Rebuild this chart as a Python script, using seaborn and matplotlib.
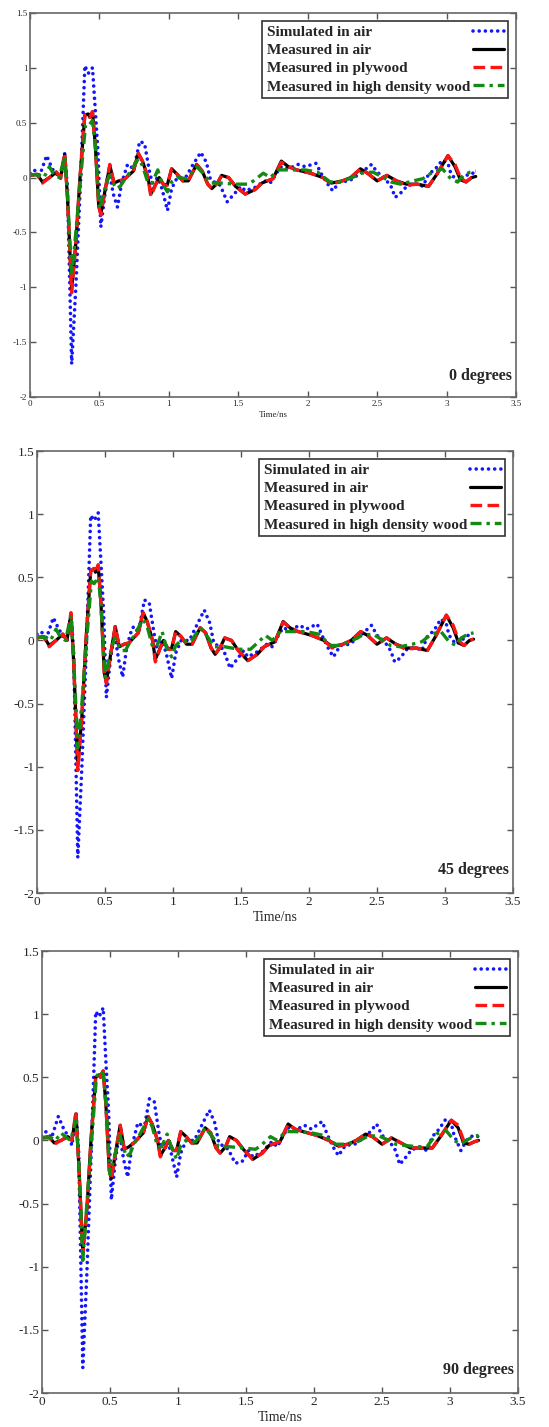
import matplotlib
matplotlib.use("Agg")
import matplotlib.pyplot as plt
import seaborn as sns

# time (ns) of the read-off points, one per kind of trace
sim_t = [0.00, 0.03, 0.07, 0.12, 0.16, 0.20, 0.22, 0.25, 0.27, 0.30,
         0.33, 0.365, 0.395, 0.42, 0.45, 0.47, 0.49, 0.51, 0.54, 0.57,
         0.60, 0.63, 0.66, 0.70, 0.72, 0.745, 0.79, 0.825, 0.86, 0.88,
         0.92, 0.95, 0.99, 1.02, 1.06, 1.12, 1.17, 1.23, 1.27, 1.30,
         1.34, 1.37, 1.42, 1.47, 1.52, 1.55, 1.62, 1.69, 1.73, 1.78,
         1.81, 1.86, 1.93, 1.98, 2.06, 2.10, 2.15, 2.18, 2.23, 2.30,
         2.39, 2.46, 2.50, 2.55, 2.60, 2.63, 2.67, 2.72, 2.79, 2.83,
         2.87, 2.92, 2.97, 3.01, 3.03, 3.08, 3.12, 3.17, 3.21]
meas_t = [0.00, 0.05, 0.09, 0.14, 0.19, 0.22, 0.25, 0.27, 0.30, 0.33,
          0.36, 0.395, 0.42, 0.43, 0.45, 0.47, 0.495, 0.51, 0.54, 0.575,
          0.605, 0.64, 0.675, 0.71, 0.745, 0.78, 0.81, 0.85, 0.87, 0.91,
          0.93, 0.965, 0.99, 1.02, 1.06, 1.10, 1.14, 1.20, 1.24, 1.28,
          1.31, 1.35, 1.38, 1.43, 1.48, 1.55, 1.62, 1.67, 1.75, 1.81,
          1.86, 1.92, 2.02, 2.11, 2.17, 2.25, 2.31, 2.38, 2.43, 2.50,
          2.57, 2.64, 2.71, 2.79, 2.87, 2.93, 3.01, 3.06, 3.10, 3.14,
          3.18, 3.21]
wood_t = [0.00, 0.07, 0.10, 0.14, 0.17, 0.21, 0.25, 0.27, 0.30, 0.33,
          0.365, 0.40, 0.42, 0.45, 0.47, 0.50, 0.54, 0.57, 0.62, 0.65,
          0.675, 0.72, 0.78, 0.81, 0.85, 0.88, 0.92, 0.95, 0.99, 1.02,
          1.06, 1.13, 1.20, 1.26, 1.30, 1.38, 1.48, 1.57, 1.61, 1.68,
          1.73, 1.79, 1.86, 1.98, 2.07, 2.16, 2.23, 2.32, 2.39, 2.47,
          2.53, 2.60, 2.67, 2.76, 2.83, 2.90, 2.97, 3.03, 3.08, 3.12,
          3.17, 3.21]

# 0 degrees
sim_0 = [0.04, 0.07, 0.02, 0.2, 0.08, 0.02, -0.01, 0.22, -0.1, -1.7,
         -1.0, 0.0, 1.02, 0.95, 1.0, 0.62, 0.22, -0.45, -0.15, 0.06,
         -0.15, -0.27, -0.05, 0.11, 0.12, 0.06, 0.33, 0.31, 0.06, -0.05,
         0.0, -0.1, -0.3, -0.1, 0.0, 0.0, 0.11, 0.23, 0.14, -0.02,
         -0.05, -0.07, -0.22, -0.15, -0.08, -0.12, -0.09, -0.03, -0.05, 0.05,
         0.10, 0.08, 0.12, 0.1, 0.13, 0.03, -0.07, -0.12, -0.04, -0.03,
         0.05, 0.12, 0.05, 0.0, -0.08, -0.18, -0.14, -0.07, -0.06, -0.08,
         0.03, 0.08, 0.16, 0.13, 0.04, -0.04, 0.0, 0.04, 0.04]
air_0 = [0.02, 0.03, -0.04, 0.0, 0.05, 0.0, 0.21, -0.18, -1.02, -0.6,
         0.0, 0.57, 0.58, 0.55, 0.6, 0.3, -0.26, -0.33, -0.12, 0.11,
         -0.05, -0.03, -0.02, 0.02, 0.06, 0.22, 0.15, 0.0, -0.15, -0.05,
         0.0, -0.07, -0.06, 0.08, 0.03, -0.03, -0.03, 0.12, 0.06, -0.06,
         -0.1, -0.05, 0.02, 0.0, -0.08, -0.15, -0.11, -0.05, -0.01, 0.15,
         0.1, 0.07, 0.04, 0.0, -0.05, -0.03, 0.0, 0.08, 0.04, -0.03,
         0.02, -0.03, -0.06, -0.06, -0.08, 0.03, 0.2, 0.1, -0.02, -0.04,
         0.0, 0.01]
ply_0 = [0.02, 0.03, -0.05, 0.0, 0.05, 0.0, 0.22, -0.18, -1.05, -0.6,
         0.0, 0.57, 0.58, 0.55, 0.6, 0.3, -0.26, -0.34, -0.12, 0.12,
         -0.05, -0.03, -0.02, 0.02, 0.06, 0.22, 0.15, 0.0, -0.17, -0.05,
         0.0, -0.07, -0.07, 0.08, 0.03, -0.03, -0.03, 0.12, 0.06, -0.06,
         -0.1, -0.05, 0.02, 0.0, -0.08, -0.15, -0.11, -0.05, -0.01, 0.14,
         0.1, 0.07, 0.04, 0.0, -0.06, -0.03, 0.0, 0.08, 0.04, -0.03,
         0.02, -0.03, -0.07, -0.06, -0.08, 0.03, 0.2, 0.12, 0.0, -0.04,
         0.0, 0.01]
wood_0 = [0.03, 0.02, 0.0, 0.1, 0.03, 0.0, 0.19, -0.15, -0.9, -0.5,
          0.0, 0.48, 0.47, 0.52, 0.3, -0.29, -0.1, 0.02, -0.1, -0.08,
          -0.03, 0.05, 0.17, 0.11, -0.05, -0.05, 0.07, -0.05, -0.13, -0.04,
          0.0, -0.01, 0.1, 0.02, -0.05, -0.05, -0.06, -0.06, -0.03, 0.04,
          0.0, 0.07, 0.07, 0.07, 0.05, -0.04, -0.04, 0.0, 0.04, 0.05,
          0.01, -0.04, -0.06, -0.03, -0.01, 0.05, 0.08, -0.01, -0.04, 0.02,
          0.05, 0.06]

# 45 degrees
sim_45 = [0.05, 0.07, 0.02, 0.18, 0.09, 0.02, 0.0, 0.22, -0.1, -1.72,
          -1.0, 0.0, 0.99, 0.95, 1.01, 0.62, 0.22, -0.45, -0.15, 0.06,
          -0.15, -0.29, -0.05, 0.10, 0.11, 0.06, 0.32, 0.30, 0.06, -0.05,
          0.0, -0.1, -0.3, -0.1, 0.0, 0.0, 0.11, 0.24, 0.14, -0.02,
          -0.05, -0.07, -0.22, -0.15, -0.08, -0.13, -0.09, -0.03, -0.05, 0.05,
          0.10, 0.08, 0.12, 0.09, 0.13, 0.03, -0.08, -0.13, -0.04, -0.03,
          0.05, 0.12, 0.04, 0.0, -0.08, -0.17, -0.14, -0.07, -0.06, -0.08,
          0.03, 0.08, 0.17, 0.13, 0.04, -0.03, 0.0, 0.04, 0.04]
air_45 = [0.02, 0.03, -0.04, 0.0, 0.05, 0.0, 0.21, -0.18, -1.0, -0.6,
          0.0, 0.55, 0.57, 0.54, 0.59, 0.3, -0.26, -0.33, -0.12, 0.11,
          -0.05, -0.03, -0.02, 0.02, 0.06, 0.22, 0.15, 0.0, -0.15, -0.05,
          0.0, -0.07, -0.06, 0.07, 0.03, -0.03, -0.03, 0.1, 0.06, -0.06,
          -0.11, -0.05, 0.02, 0.0, -0.08, -0.16, -0.11, -0.05, -0.01, 0.15,
          0.1, 0.07, 0.04, 0.0, -0.05, -0.03, 0.0, 0.07, 0.04, -0.03,
          0.02, -0.03, -0.06, -0.06, -0.08, 0.03, 0.2, 0.1, -0.02, -0.04,
          0.0, 0.01]
ply_45 = [0.02, 0.03, -0.05, 0.0, 0.05, 0.0, 0.22, -0.18, -1.03, -0.6,
          0.0, 0.55, 0.57, 0.54, 0.60, 0.30, -0.26, -0.34, -0.12, 0.11,
          -0.05, -0.03, -0.02, 0.02, 0.06, 0.22, 0.15, 0.0, -0.17, -0.05,
          0.0, -0.07, -0.07, 0.07, 0.03, -0.03, -0.03, 0.10, 0.06, -0.06,
          -0.11, -0.05, 0.02, 0.0, -0.08, -0.16, -0.11, -0.05, -0.01, 0.145,
          0.10, 0.07, 0.04, 0.0, -0.06, -0.03, 0.0, 0.07, 0.04, -0.03,
          0.02, -0.03, -0.07, -0.06, -0.08, 0.03, 0.20, 0.12, 0.0, -0.04,
          0.0, 0.01]
wood_45 = [0.03, 0.02, 0.0, 0.09, 0.03, 0.0, 0.20, -0.15, -0.85, -0.5,
           0.0, 0.47, 0.45, 0.50, 0.30, -0.29, -0.10, 0.02, -0.08, -0.08,
           -0.03, 0.05, 0.17, 0.11, -0.05, -0.05, 0.07, -0.05, -0.13, -0.04,
           0.0, -0.01, 0.10, 0.02, -0.05, -0.05, -0.07, -0.07, -0.03, 0.04,
           0.0, 0.07, 0.07, 0.07, 0.05, -0.04, -0.04, 0.0, 0.04, 0.05,
           0.01, -0.04, -0.05, -0.03, -0.01, 0.05, 0.07, -0.01, -0.04, 0.02,
           0.05, 0.06]

# 90 degrees
sim_90 = [0.03, 0.07, 0.02, 0.19, 0.09, 0.02, -0.04, 0.22, -0.1, -1.8,
          -1.05, 0.0, 1.02, 0.98, 1.05, 0.62, 0.22, -0.47, -0.15, 0.06,
          -0.15, -0.29, -0.05, 0.12, 0.14, 0.06, 0.33, 0.31, 0.06, -0.05,
          0.0, -0.1, -0.29, -0.1, 0.0, 0.0, 0.11, 0.24, 0.14, -0.02,
          -0.05, -0.07, -0.18, -0.17, -0.08, -0.13, -0.09, -0.01, -0.05, 0.05,
          0.10, 0.08, 0.12, 0.09, 0.15, 0.04, -0.07, -0.12, -0.04, -0.03,
          0.04, 0.13, 0.04, 0.0, -0.08, -0.19, -0.14, -0.07, -0.06, -0.08,
          0.03, 0.09, 0.17, 0.13, 0.04, -0.08, 0.0, 0.04, 0.03]
air_90 = [0.02, 0.03, -0.02, 0.0, 0.03, 0.0, 0.21, -0.18, -0.88, -0.55,
          0.0, 0.5, 0.52, 0.5, 0.55, 0.28, -0.24, -0.3, -0.1, 0.12,
          -0.07, -0.05, -0.02, 0.02, 0.06, 0.19, 0.13, 0.0, -0.12, -0.05,
          0.0, -0.08, -0.08, 0.07, 0.03, -0.02, -0.02, 0.1, 0.06, -0.06,
          -0.1, -0.05, 0.03, 0.0, -0.07, -0.15, -0.1, -0.04, -0.01, 0.13,
          0.09, 0.07, 0.04, 0.0, -0.04, -0.03, 0.0, 0.05, 0.03, -0.03,
          0.02, -0.02, -0.06, -0.06, -0.06, 0.03, 0.16, 0.1, -0.02, -0.03,
          -0.01, 0.0]
ply_90 = [0.02, 0.03, -0.03, 0.0, 0.03, 0.0, 0.23, -0.18, -0.9, -0.55,
          0.0, 0.5, 0.52, 0.5, 0.55, 0.28, -0.24, -0.3, -0.1, 0.12,
          -0.07, -0.05, -0.02, 0.02, 0.06, 0.19, 0.13, 0.0, -0.13, -0.05,
          0.0, -0.08, -0.08, 0.07, 0.03, -0.02, -0.02, 0.1, 0.06, -0.06,
          -0.1, -0.05, 0.03, 0.0, -0.07, -0.15, -0.1, -0.04, -0.01, 0.13,
          0.09, 0.07, 0.04, 0.0, -0.05, -0.03, 0.0, 0.05, 0.03, -0.03,
          0.02, -0.02, -0.06, -0.06, -0.06, 0.03, 0.16, 0.12, 0.0, -0.03,
          -0.01, 0.0]
wood_90 = [0.02, 0.02, 0.0, 0.06, 0.03, 0.0, 0.16, -0.15, -0.95, -0.5,
           0.0, 0.5, 0.55, 0.53, 0.3, -0.27, -0.1, 0.05, -0.13, -0.1,
           -0.03, 0.05, 0.17, 0.11, -0.05, -0.05, 0.05, -0.05, -0.15, -0.04,
           0.0, -0.01, 0.1, 0.02, -0.05, -0.05, -0.06, -0.07, -0.04, 0.03,
           0.0, 0.07, 0.07, 0.06, 0.04, -0.03, -0.03, -0.01, 0.03, 0.04,
           0.01, -0.03, -0.04, -0.05, -0.05, 0.05, 0.08, 0.0, -0.03, 0.0,
           0.03, 0.04]

labels = ["Simulated in air", "Measured in air", "Measured in plywood",
          "Measured in high density wood"]
panel_names = ["0 degrees", "45 degrees", "90 degrees"]
x_ticks = [0, 0.5, 1, 1.5, 2, 2.5, 3, 3.5]
y_ticks = [-2, -1.5, -1, -0.5, 0, 0.5, 1, 1.5]
xtick_text = ["0", "0.5", "1", "1.5", "2", "2.5", "3", "3.5"]
ytick_text = ["-2", "-1.5", "-1", "-0.5", "0", "0.5", "1", "1.5"]

sns.set_style("ticks")
plt.rcParams["font.family"] = ["Liberation Serif", "DejaVu Serif"]

W, H = 549, 1427
fig = plt.figure(figsize=(W / 100, H / 100), dpi=100)

# axes boxes in pixels: left, top, right, bottom
boxes = [(30, 13, 516, 397), (37, 451, 513, 893), (42, 951, 518, 1393)]
tick_sizes = [6.5, 9.5, 9.5]
xlabel_sizes = [6.5, 10, 10]

panels = [
    (sim_0, air_0, ply_0, wood_0),
    (sim_45, air_45, ply_45, wood_45),
    (sim_90, air_90, ply_90, wood_90),
]

legends = []
for i, (sim, air, ply, wood) in enumerate(panels):
    l, t, r, b = boxes[i]
    ax = fig.add_axes([l / W, 1 - b / H, (r - l) / W, (b - t) / H])

    sns.lineplot(x=sim_t, y=sim, ax=ax, color="#1414ff", linewidth=2.6, sort=False,
                 label=labels[0])
    ln = ax.get_lines()[-1]
    ln.set_dashes((0.01, 1.7))
    ln.set_dash_capstyle("round")

    sns.lineplot(x=meas_t, y=air, ax=ax, color="black", linewidth=2.3, sort=False,
                 label=labels[1])

    sns.lineplot(x=meas_t, y=ply, ax=ax, color="#ff1414", linewidth=2.4, sort=False,
                 label=labels[2])
    ax.get_lines()[-1].set_dashes((3.5, 1.6))

    sns.lineplot(x=wood_t, y=wood, ax=ax, color="#138a13", linewidth=2.4, sort=False,
                 label=labels[3])
    ax.get_lines()[-1].set_dashes((3.3, 1.5, 1.0, 1.5))

    ax.set_xlim(0, 3.5)
    ax.set_ylim(-2, 1.5)
    ax.set_xticks(x_ticks)
    ax.set_xticklabels(xtick_text)
    ax.set_yticks(y_ticks)
    ax.set_yticklabels(ytick_text)
    ax.tick_params(direction="in", length=4, width=1, color="#555555", top=True, right=True,
                   labelsize=tick_sizes[i], pad=2)
    for s in ax.spines.values():
        s.set_color("#666666")
        s.set_linewidth(1.2)

    ax.set_xlabel("Time/ns", fontsize=xlabel_sizes[i], labelpad=2)
    ax.set_ylabel("")

    leg = ax.legend(loc="upper right", markerfirst=False, fancybox=False, framealpha=1,
                    edgecolor="#333333",
                    prop={"family": "Liberation Serif", "weight": "bold", "size": 11},
                    handlelength=2.0, handletextpad=0.2, labelspacing=0.3, borderpad=0.3,
                    borderaxespad=0.5)
    leg.get_frame().set_linewidth(1.2)
    legends.append(leg)

    ax.text(0.992, 0.035, panel_names[i], transform=ax.transAxes, ha="right", va="bottom",
            fontsize=11.5, fontweight="bold")

# left-align legend labels while keeping the line samples at the right edge
fig.canvas.draw()
renderer = fig.canvas.get_renderer()
for leg in legends:
    col = leg._legend_handle_box.get_children()[0]
    rows = col.get_children()
    width = max(row.get_bbox(renderer).width for row in rows)
    for row in rows:
        row.mode = "expand"
    col.width = width

fig.savefig("out.png", dpi=100)
